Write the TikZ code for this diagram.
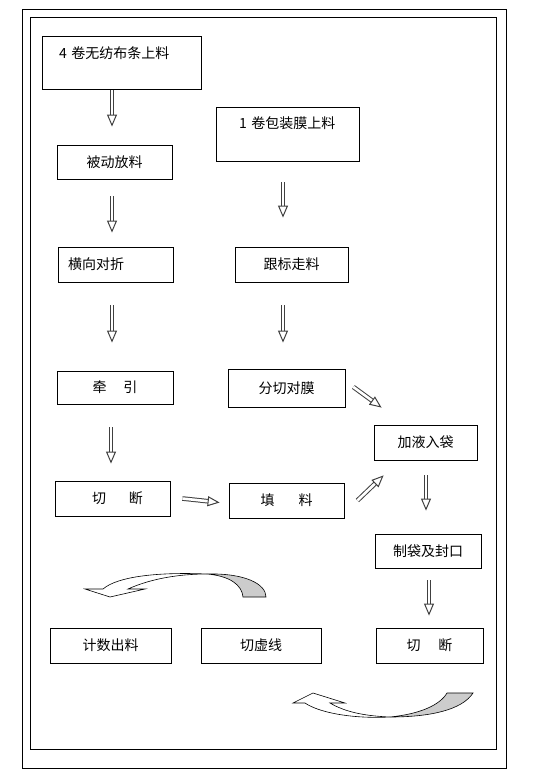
\documentclass[tikz,border=0pt]{standalone}
\usepackage{fontspec}
\newfontfamily\cjk{Noto Sans CJK SC}
\usetikzlibrary{arrows.meta}

\begin{document}
\begin{tikzpicture}[x=1pt, y=-1pt,
    box/.style={draw, line width=0.8pt, inner sep=0pt, font=\cjk\fontsize{14}{16}\selectfont},
    blk/.style={draw=black!75, line width=1pt, double=white, double distance=2.6pt,
        -{Triangle[open, length=12pt, width=10pt]}},
    frame/.style={draw, line width=1pt}]
    \useasboundingbox (0,0) rectangle (552,781);
    % Frames
    \path [frame] (22,9.5) rectangle (506,768.5);
    \path [frame] (30,18) rectangle (496,749);
    % Place nodes
    \node [box, text width=125pt, inner xsep=17pt, align=left, text height=22.3pt, text depth=30.7pt] (A) at (121.5,62.5) {4 卷无纺布条上料};
    \node [box, text width=97pt, inner xsep=23pt, align=left, text height=21.8pt, text depth=32.2pt] (B) at (287.5,134) {1 卷包装膜上料};
    \node [box, minimum width=115pt, minimum height=34pt] (C) at (114.5,162) {被动放料};
    \node [box, text width=95pt, inner xsep=10pt, align=left, minimum height=35pt] (D) at (115.5,264.5) {横向对折};
    \node [box, minimum width=113pt, minimum height=35pt] (E) at (291.5,264.5) {跟标走料};
    \node [box, minimum width=116pt, minimum height=33pt] (F) at (115,387.5) {牵\hspace{17pt}引};
    \node [box, minimum width=117pt, minimum height=38pt] (G) at (286.5,388) {分切对膜};
    \node [box, minimum width=103pt, minimum height=35pt] (H) at (425.5,442.5) {加液入袋};
    \node [box, minimum width=115pt, minimum height=35pt] (I) at (112.5,498.5) {\hspace{10pt}切\hspace{23pt}断};
    \node [box, minimum width=115pt, minimum height=35pt] (J) at (286.5,500.5) {填\hspace{24pt}料};
    \node [box, minimum width=106pt, minimum height=34pt] (K) at (428,551) {制袋及封口};
    \node [box, minimum width=121pt, minimum height=35pt] (L) at (110.5,645.5) {计数出料};
    \node [box, minimum width=120pt, minimum height=35pt] (M) at (261,645.5) {切虚线};
    \node [box, minimum width=107pt, minimum height=35pt] (N) at (429.5,645.5) {切\hspace{18pt}断};
    % Block arrows
    \path [blk] ([xshift=-9.5pt,yshift=-1pt]A.south) -- ([xshift=-2.5pt,yshift=18pt]C.north);
    \path [blk] ([xshift=-4.5pt,yshift=-21pt]B.south) -- ([xshift=-8.5pt,yshift=29pt]E.north);
    \path [blk] ([xshift=-2.5pt,yshift=-17pt]C.south) -- ([xshift=-3.5pt,yshift=14pt]D.north);
    \path [blk] ([xshift=-3.5pt,yshift=-23pt]D.south) -- ([xshift=-3pt,yshift=28pt]F.north);
    \path [blk] ([xshift=-8.5pt,yshift=-23pt]E.south) -- ([xshift=-3.5pt,yshift=26pt]G.north);
    \path [blk] ([xshift=-4pt,yshift=-23pt]F.south) -- ([xshift=-1.5pt,yshift=17pt]I.north);
    \path [blk] ([xshift=12pt]I.east) -- ([xshift=-9pt,yshift=-2pt]J.west);
    \path [blk] ([xshift=13pt]J.east) -- ([xshift=10pt,yshift=-15pt]H.south west);
    \path [blk] ([xshift=8pt,yshift=1pt]G.east) -- ([xshift=8pt,yshift=17pt]H.north west);
    \path [blk] ([xshift=0.5pt,yshift=-15pt]H.south) -- ([xshift=-2pt,yshift=23pt]K.north);
    \path [blk] ([xshift=1pt,yshift=-12pt]K.south) -- ([xshift=-0.5pt,yshift=12pt]N.north);
    % Curved arrows
    \path [draw, line width=0.6pt, fill=gray!40] (207,574) .. controls (245,573) and (266,584) .. (266,597)
        -- (243,597) .. controls (242,585) and (230,576) .. (207,574) -- cycle;
    \path [draw, line width=0.6pt, fill=white] (85,589) -- (110,597) -- (145,589) -- (128,589)
        .. controls (150,579) and (178,574) .. (207,574) .. controls (160,572) and (118,576) .. (103,589) -- cycle;
    \path [draw, line width=0.6pt, fill=gray!40] (390,717) .. controls (430,717) and (462,710) .. (473,693)
        -- (447,693) .. controls (440,705) and (420,714) .. (390,717) -- cycle;
    \path [draw, line width=0.6pt, fill=white] (293,703) -- (313,693) -- (345,703) -- (330,703)
        .. controls (345,712) and (365,716) .. (390,717) .. controls (350,719) and (318,712) .. (305,703) -- cycle;
\end{tikzpicture}
\end{document}
